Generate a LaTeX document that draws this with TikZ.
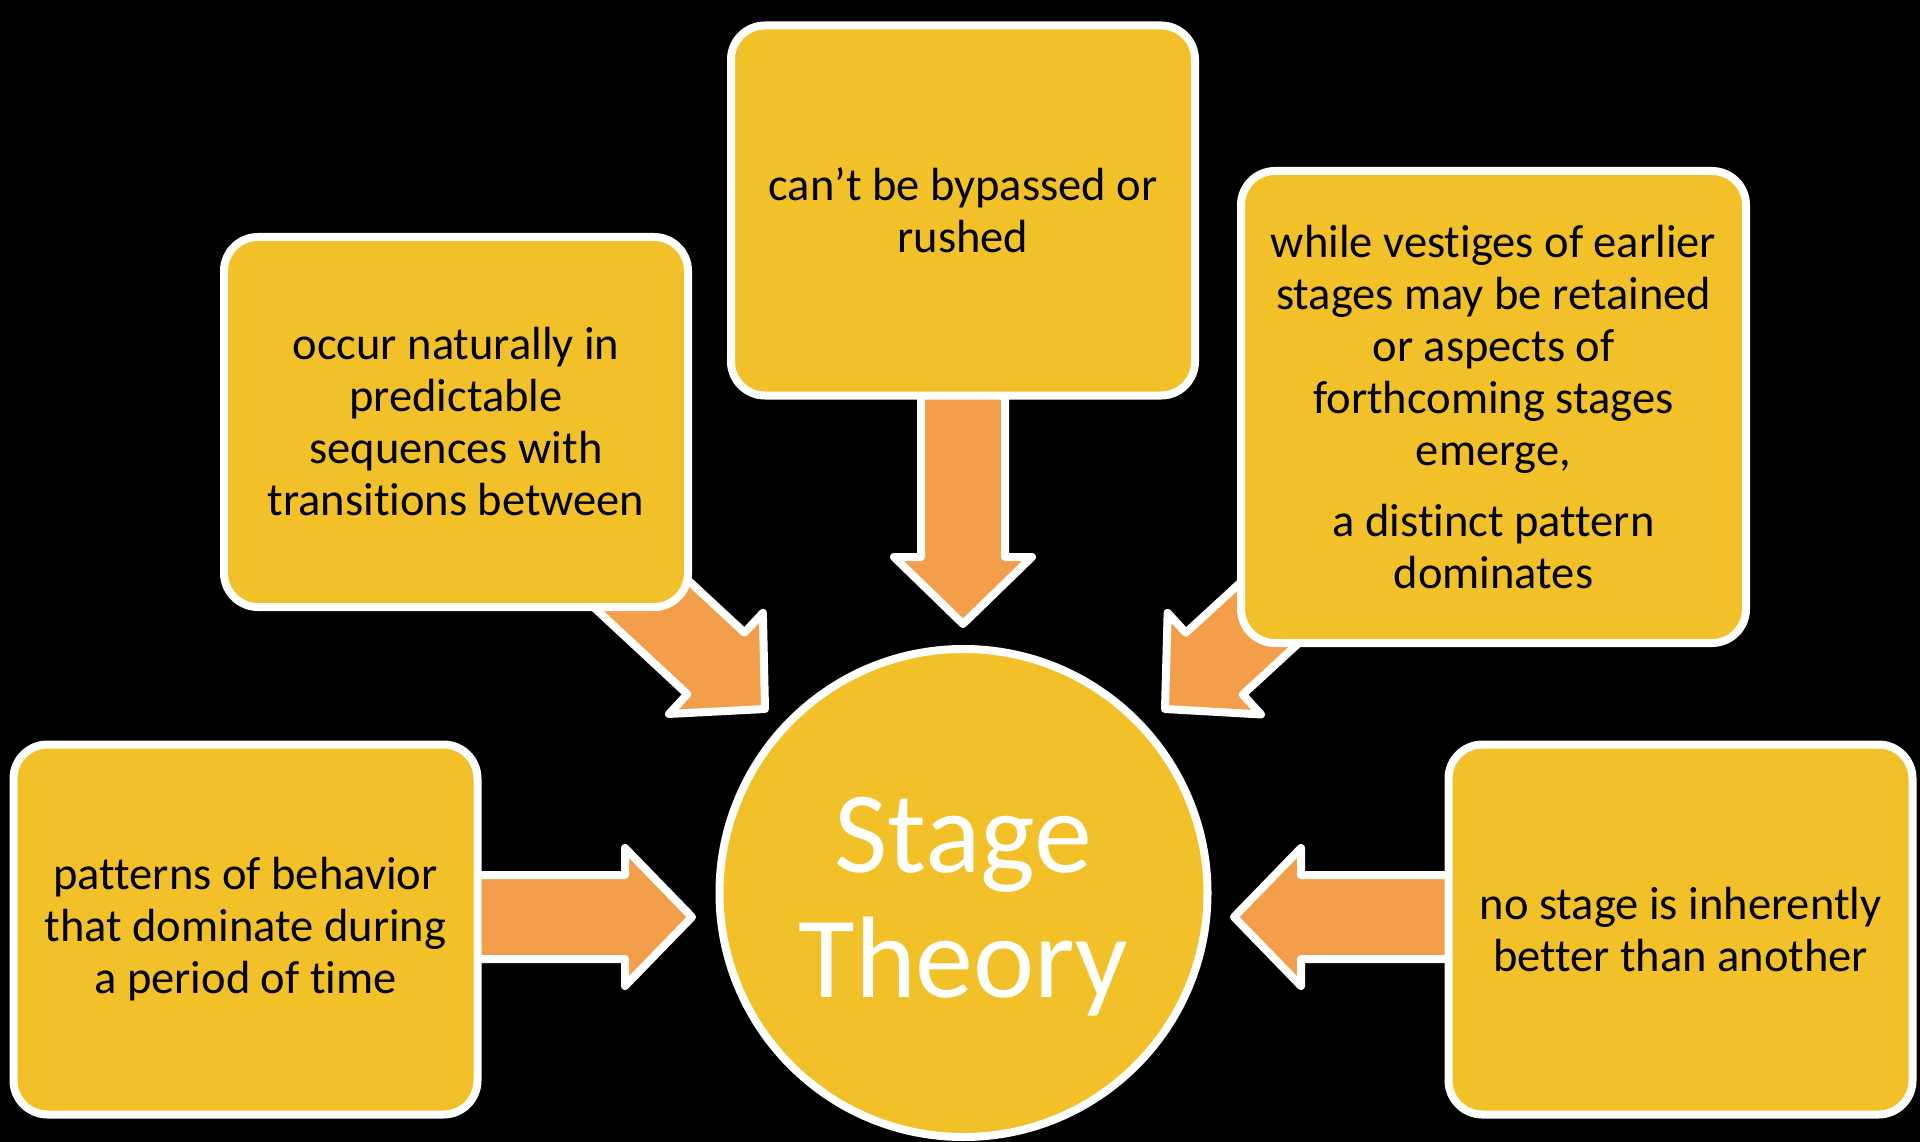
\documentclass[tikz,border=0pt]{standalone}
\usepackage{fontspec}
\setmainfont{Carlito}[Ligatures=NoCommon]
\usetikzlibrary{calc,backgrounds}
\definecolor{boxyellow}{RGB}{242,192,41}
\definecolor{arroworange}{RGB}{243,158,75}
% block arrow from #1 (tail) to #2 (tip)
\newcommand{\blockarrow}[2]{%
  \coordinate (base) at ($(#2)!67pt!(#1)$);
  \draw[flow] ($(#1)!42pt!90:(#2)$) -- ($(base)!42pt!90:(#2)$)
    -- ($(base)!69pt!90:(#2)$) -- (#2)
    -- ($(base)!69pt!-90:(#2)$) -- ($(base)!42pt!-90:(#2)$)
    -- ($(#1)!42pt!-90:(#2)$) -- cycle;
}

\begin{document}
\begin{tikzpicture}[x=1pt,y=-1pt,
    idea/.style={draw=white, line width=8pt, fill=boxyellow, rounded corners=34pt,
      minimum width=464pt, minimum height=370pt, inner sep=0pt, align=center,
      font=\fontsize{46.5}{52}\selectfont},
    hub/.style={circle, draw=white, line width=8pt, fill=boxyellow,
      minimum size=488pt, inner sep=0pt},
    hubtext/.style={text=white, align=center, font=\fontsize{116}{125}\selectfont},
    flow/.style={draw=white, line width=8pt, line join=round, fill=arroworange}]

        \useasboundingbox (0,0) rectangle (1920,1142);

        % Centre
        \node[hub] (hub) at (963.5,893) {};
        \node[hubtext] (title) at ([yshift=-13.5pt]hub.center) {Stage\\Theory};

        % Boxes
        \node[idea] (cN) at (963,210.5) {can’t be bypassed or\\rushed};
        \node[idea] (cNW) at (456,422)
            {occur naturally in\\predictable\\sequences with\\transitions between};
        \node[idea, minimum width=505pt, minimum height=472pt] (cNE) at (1493.5,407)
            {while vestiges of earlier\\stages may be retained\\or aspects of\\forthcoming stages\\emerge,\\[19pt]a distinct pattern\\dominates};
        \node[idea] (cW) at (245.5,929.5) {patterns of behavior\\that dominate during\\a period of time};
        \node[idea] (cE) at (1680.5,929.5) {no stage is inherently\\better than another};

        % Tips, just short of the circle
        \coordinate (tipN) at (963,624);
        \coordinate (tipNW) at (765,709);
        \coordinate (tipNE) at (1165,709);
        \coordinate (tipW) at (692,917);
        \coordinate (tipE) at (1234,917);
        \coordinate (tailW) at (cW |- tipW);
        \coordinate (tailE) at (cE |- tipE);

        % Arrows, behind the boxes
        \begin{pgfonlayer}{background}
            \fill[black] (0,0) rectangle (1920,1142);
            \foreach \from/\to in {cN/tipN, cNW/tipNW, cNE/tipNE, tailW/tipW, tailE/tipE}
            {
                \blockarrow{\from}{\to}
            }
        \end{pgfonlayer}

    \end{tikzpicture}
\end{document}
